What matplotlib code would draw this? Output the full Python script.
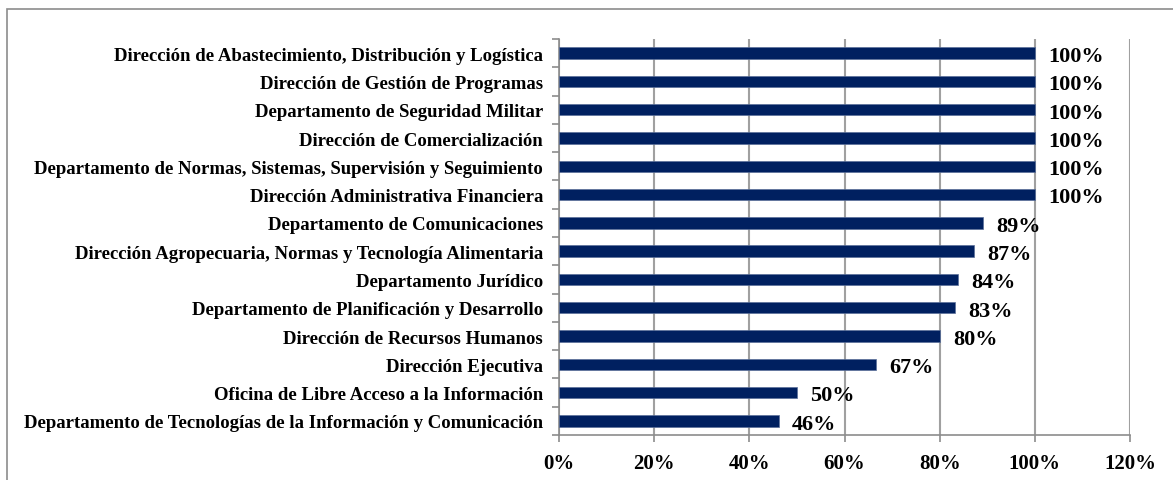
import numpy as np
import matplotlib.pyplot as plt
from matplotlib.patches import Rectangle
from matplotlib.ticker import PercentFormatter

areas = [
    "Dirección de Abastecimiento, Distribución y Logística",
    "Dirección de Gestión de Programas",
    "Departamento de Seguridad Militar",
    "Dirección de Comercialización",
    "Departamento de Normas, Sistemas, Supervisión y Seguimiento",
    "Dirección Administrativa Financiera",
    "Departamento de Comunicaciones",
    "Dirección Agropecuaria, Normas y Tecnología Alimentaria",
    "Departamento Jurídico",
    "Departamento de Planificación y Desarrollo",
    "Dirección de Recursos Humanos",
    "Dirección Ejecutiva",
    "Oficina de Libre Acceso a la Información",
    "Departamento de Tecnologías de la Información y Comunicación",
]
values = [1.0, 1.0, 1.0, 1.0, 1.0, 1.0, 0.891, 0.873, 0.838, 0.833, 0.80, 0.667, 0.50, 0.462]
xticks = [0, 0.2, 0.4, 0.6, 0.8, 1.0, 1.2]

plt.rcParams['font.family'] = 'Liberation Serif'
plt.rcParams['font.weight'] = 'bold'

fig = plt.figure(figsize=(11.73, 4.81), dpi=100)
ax = fig.add_axes([559/1173, 1-436/481, (1130-559)/1173, (436-40)/481])

# frame around the chart (cut at right and bottom like the source)
fig.patches.append(Rectangle((7/1173, -0.1), 1.2, 1-10/481+0.1, transform=fig.transFigure,
                             fill=False, edgecolor='#8c8c8c', linewidth=1.2))

n = len(areas)
y = np.arange(n)[::-1]
ax.barh(y, values, height=0.4, color='#002060', edgecolor='#5a6f99', linewidth=0.5, zorder=3)

for yi, v in zip(y, values):
    ax.text(v + 0.028, yi - 0.1, f"{v:.0%}", va='center', ha='left',
            fontsize=16, fontweight='bold', zorder=4)

ax.set_xlim(0, 1.2)
ax.set_ylim(-0.5, n - 0.5)
ax.set_xticks(xticks)
ax.xaxis.set_major_formatter(PercentFormatter(1.0, decimals=0))
ax.set_yticks(y)
ax.set_yticklabels(areas)
ax.set_yticks(np.arange(n + 1) - 0.5, minor=True)
ax.tick_params(axis='y', which='major', length=0, pad=11.5, labelsize=13.5)
ax.tick_params(axis='y', which='minor', length=5, color='#8c8c8c', width=1.2)
ax.tick_params(axis='x', length=5, color='#8c8c8c', width=1.2, labelsize=15, pad=8)

ax.grid(axis='x', color='#a0a0a0', linewidth=1.5, zorder=0)
ax.set_axisbelow(True)
for s in ['top', 'right']:
    ax.spines[s].set_visible(False)
for s in ['left', 'bottom']:
    ax.spines[s].set_color('#8c8c8c')
    ax.spines[s].set_linewidth(1.2)

plt.savefig('out.png', dpi=100)
